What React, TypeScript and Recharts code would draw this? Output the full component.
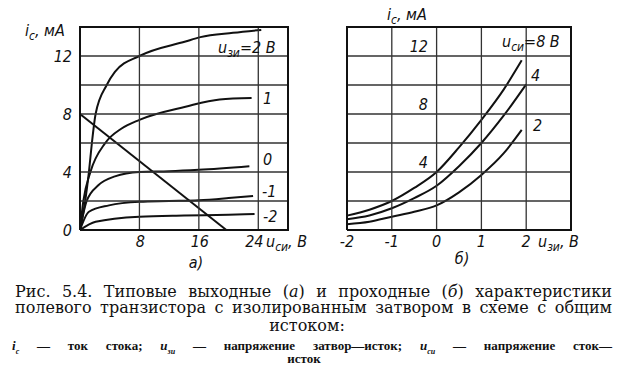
import { LineChart, Line, XAxis, YAxis } from 'recharts'

// output characteristics (a): drain voltage, V -> drain current, mA
const outX2 = [0, 0.7, 1.2, 1.6, 2.1, 3.6, 4.7, 8, 14.2, 16.2, 20.6, 24.4]
const outY2 = [0, 2, 4, 6, 8, 10, 10.9, 12, 13, 13.3, 13.6, 13.8]
const outX1 = [0, 0.45, 1.4, 3.4, 5.6, 8, 14.2, 18.8, 23.1]
const outY1 = [0, 2, 4, 6, 7, 7.6, 8.5, 9.0, 9.1]
const outX0 = [0, 0.9, 2.5, 4.7, 8, 12, 16, 22.8]
const outY0 = [0, 2, 3.1, 3.7, 4.0, 4.05, 4.15, 4.4]
const outXm1 = [0, 1.2, 3.9, 8, 12, 16, 20, 23.3]
const outYm1 = [0, 1.26, 1.7, 1.95, 2.0, 2.05, 2.2, 2.35]
const outXm2 = [0, 2.1, 8, 14, 20, 23.5]
const outYm2 = [0, 0.57, 0.92, 1.0, 1.05, 1.1]
const loadX = [0, 19.7]
const loadY = [8, 0]

// transfer characteristics (б): gate voltage, V -> drain current, mA
const tr8X = [-2, -1.5, -1, -0.5, 0, 0.5, 1, 1.5, 1.9]
const tr8Y = [0.99, 1.4, 2.0, 2.9, 4.0, 5.7, 7.6, 9.7, 11.7]
const tr4X = [-2, -1.5, -1, -0.5, 0, 0.5, 1, 1.5, 2]
const tr4Y = [0.74, 1.0, 1.5, 2.2, 3.05, 4.4, 6.0, 7.9, 10.05]
const tr2X = [-2, -1.5, -1, -0.5, 0, 0.5, 1, 1.5, 1.9]
const tr2Y = [0.4, 0.57, 0.92, 1.26, 1.7, 2.6, 3.8, 5.3, 6.9]

const yTicks = [0, 2, 4, 6, 8, 10, 12, 14]
const outXTicks = [0, 8, 16, 24, 28]
const outXLabels = [8, 16, 24]
const outYLabels = [0, 4, 8, 12]
const trXTicks = [-2, -1, 0, 1, 2, 3]
const trXLabels = [-2, -1, 0, 1, 2]
const trYLabels = [4, 8, 12]

const zip = (xs: number[], ys: number[]) => xs.map((x, i) => ({ x, y: ys[i] }))

const FONT = "'DejaVu Sans Condensed', 'Liberation Sans Narrow', 'Liberation Sans', sans-serif"
const INK = '#111'

function Sub({ x, y, main, sub, rest, size = 16 }: { x: number; y: number; main: string; sub: string; rest?: string; size?: number }) {
  return (
    <text x={x} y={y} fontFamily={FONT} fontStyle="italic" fontSize={size} fill={INK}>
      <tspan>{main}</tspan>
      <tspan dy={4} fontSize={size * 0.75}>{sub}</tspan>
      {rest && <tspan dy={-4}>{rest}</tspan>}
    </text>
  )
}

const lineProps = { stroke: INK, strokeWidth: 2, dot: false, isAnimationActive: false, type: 'monotone' as const }
const gridProps = { dot: false, isAnimationActive: false, type: 'linear' as const, activeDot: false }

// frame: one closed path around the plot area
function frame(xd: number[], yd: number[]) {
  return [
    { x: xd[0], y: yd[0] }, { x: xd[1], y: yd[0] }, { x: xd[1], y: yd[1] },
    { x: xd[0], y: yd[1] }, { x: xd[0], y: yd[0] },
  ]
}

// grid: one zig-zag path per direction, joined along the frame edges
function gridV(xTicks: number[], xd: number[], yd: number[]) {
  const inner = xTicks.filter((x) => x > xd[0] && x < xd[1])
  const pts: { x: number; y: number }[] = []
  inner.forEach((x, i) => {
    const [a, b] = i % 2 === 0 ? [yd[0], yd[1]] : [yd[1], yd[0]]
    pts.push({ x, y: a }, { x, y: b })
  })
  return pts
}
function gridH(yTicksList: number[], xd: number[], yd: number[]) {
  const inner = yTicksList.filter((y) => y > yd[0] && y < yd[1])
  const pts: { x: number; y: number }[] = []
  inner.forEach((y, i) => {
    const [a, b] = i % 2 === 0 ? [xd[0], xd[1]] : [xd[1], xd[0]]
    pts.push({ x: a, y }, { x: b, y })
  })
  return pts
}

function OutputChart() {
  const series = [
    zip(outX2, outY2), zip(outX1, outY1), zip(outX0, outY0), zip(outXm1, outYm1), zip(outXm2, outYm2),
  ]
  const xd = [0, 28]
  const yd = [0, 14]
  return (
    <LineChart width={320} height={260} margin={{ top: 27, right: 32, bottom: 0, left: 0 }}>
      <XAxis type="number" dataKey="x" domain={xd} ticks={outXTicks} axisLine={false} tickLine={false} height={30}
        tick={(p: any) => outXLabels.includes(p.payload.value)
          ? <text x={p.x + (p.payload.value === 24 ? -4 : 1)} y={247} textAnchor="middle" fontFamily={FONT} fontStyle="italic" fontSize={16} fill={INK}>{p.payload.value}</text>
          : <g />} />
      <YAxis type="number" dataKey="y" domain={yd} ticks={yTicks} axisLine={false} tickLine={false} width={80}
        tick={(p: any) => outYLabels.includes(p.payload.value)
          ? <text x={72} y={p.y + 6} textAnchor="end" fontFamily={FONT} fontStyle="italic" fontSize={16} fill={INK}>{p.payload.value}</text>
          : <g />} />
      {series.map((d, i) => <Line key={'s' + i} data={d} dataKey="y" {...lineProps} />)}
      <Line key="load" data={zip(loadX, loadY)} dataKey="y" {...lineProps} type="linear" />
      <Line key="gv" data={gridV(outXTicks, xd, yd)} dataKey="y" {...gridProps} stroke="#333" strokeWidth={1.3} />
      <Line key="gh" data={gridH(yTicks, xd, yd)} dataKey="y" {...gridProps} stroke="#333" strokeWidth={1.3} />
      <Line key="fr" data={frame(xd, yd)} dataKey="y" {...gridProps} stroke={INK} strokeWidth={2} />
    </LineChart>
  )
}

function TransferChart() {
  const series = [zip(tr8X, tr8Y), zip(tr4X, tr4Y), zip(tr2X, tr2Y)]
  const xd = [-2, 3]
  const yd = [0, 14]
  return (
    <LineChart width={312} height={260} margin={{ top: 27, right: 61, bottom: 0, left: 0 }}>
      <XAxis type="number" dataKey="x" domain={xd} ticks={trXTicks} axisLine={false} tickLine={false} height={30}
        tick={(p: any) => trXLabels.includes(p.payload.value)
          ? <text x={p.x} y={247} textAnchor="middle" fontFamily={FONT} fontStyle="italic" fontSize={16} fill={INK}>{p.payload.value}</text>
          : <g />} />
      <YAxis type="number" dataKey="y" domain={yd} ticks={yTicks} axisLine={false} tickLine={false} width={27}
        tick={(p: any) => trYLabels.includes(p.payload.value)
          ? <text x={108} y={p.y - 4} textAnchor="end" fontFamily={FONT} fontStyle="italic" fontSize={16} fill={INK}>{p.payload.value}</text>
          : <g />} />
      {series.map((d, i) => <Line key={'s' + i} data={d} dataKey="y" {...lineProps} />)}
      <Line key="gv" data={gridV(trXTicks, xd, yd)} dataKey="y" {...gridProps} stroke="#333" strokeWidth={1.3} />
      <Line key="gh" data={gridH(yTicks, xd, yd)} dataKey="y" {...gridProps} stroke="#333" strokeWidth={1.3} />
      <Line key="fr" data={frame(xd, yd)} dataKey="y" {...gridProps} stroke={INK} strokeWidth={2} />
    </LineChart>
  )
}

const capLine = (top: number, left: number, width: number, size: number, family: string, bold: boolean): React.CSSProperties => ({
  position: 'absolute', top, left, width, fontFamily: family, fontSize: size, lineHeight: `${size}px`,
  fontWeight: bold ? 700 : 400, color: INK, textAlign: 'justify', textAlignLast: 'justify',
})
const CAP = "'DejaVu Serif', serif"
const NOTE = "'Liberation Serif', serif"
const subStyle: React.CSSProperties = { fontSize: 8, fontStyle: 'italic' }

export default function App() {
  return (
    <div style={{ position: 'absolute', left: 0, top: 0, width: 632, height: 369, background: '#fff', overflow: 'hidden' }}>
      <div style={{ position: 'absolute', left: 0, top: 0 }}><OutputChart /></div>
      <div style={{ position: 'absolute', left: 320, top: 0 }}><TransferChart /></div>
      <svg width={632} height={369} style={{ position: 'absolute', left: 0, top: 0, pointerEvents: 'none' }}>
        {/* axis titles */}
        <Sub x={25} y={36} main="i" sub="c" rest=", мA" />
        <Sub x={266} y={247} main="u" sub="си" rest=", B" />
        <Sub x={387} y={20} main="i" sub="c" rest=", мA" />
        <Sub x={538} y={247} main="u" sub="зи" rest=", B" />
        {/* curve labels, chart a */}
        <Sub x={218} y={53} main="u" sub="зи" rest="=2 B" />
        <text fontFamily={FONT} fontStyle="italic" fontSize={16} fill={INK}>
          <tspan x={263} y={104}>1</tspan>
          <tspan x={263} y={165}>0</tspan>
          <tspan x={262} y={197}>-1</tspan>
          <tspan x={263} y={222}>-2</tspan>
        </text>
        {/* curve labels, chart б */}
        <Sub x={502} y={47} main="u" sub="си" rest="=8 B" />
        <text fontFamily={FONT} fontStyle="italic" fontSize={16} fill={INK}>
          <tspan x={531} y={81}>4</tspan>
          <tspan x={533} y={131}>2</tspan>
        </text>
        <text x={196} y={268} textAnchor="middle" fontFamily={FONT} fontStyle="italic" fontSize={16} fill={INK}>а)</text>
        <text x={462} y={264} textAnchor="middle" fontFamily={FONT} fontStyle="italic" fontSize={16} fill={INK}>б)</text>
      </svg>
      {/* caption */}
      <div style={capLine(284, 15, 597, 16, CAP, false)}>
        Рис. 5.4. Типовые выходные (<i>а</i>) и проходные (<i>б</i>) характеристики
      </div>
      <div style={capLine(300, 15, 597, 16, CAP, false)}>
        полевого транзистора с изолированным затвором в схеме с общим
      </div>
      <div style={{ ...capLine(318, 0, 614, 16, CAP, false), textAlign: 'center', textAlignLast: 'center' }}>
        истоком:
      </div>
      <div style={capLine(339, 12, 600, 13, NOTE, true)}>
        <i>i</i><sub style={subStyle}>c</sub> — ток стока; <i>u</i><sub style={subStyle}>зи</sub> — напряжение затвор—исток; <i>u</i><sub style={subStyle}>си</sub> — напряжение сток—
      </div>
      <div style={{ ...capLine(352, 0, 608, 13, NOTE, true), textAlign: 'center', textAlignLast: 'center' }}>
        исток
      </div>
    </div>
  )
}
